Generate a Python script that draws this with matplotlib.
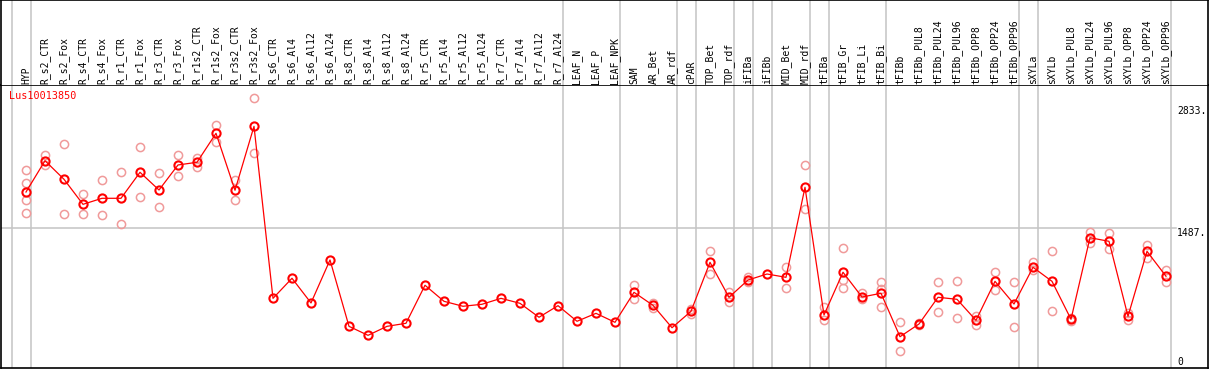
import matplotlib
matplotlib.use("Agg")
import matplotlib.pyplot as plt
import matplotlib.transforms as mtransforms

gene = "Lus10013850"

samples = ["HYP", "R_s2_CTR", "R_s2_Fox", "R_s4_CTR", "R_s4_Fox", "R_r1_CTR", "R_r1_Fox",
           "R_r3_CTR", "R_r3_Fox", "R_r1s2_CTR", "R_r1s2_Fox", "R_r3s2_CTR", "R_r3s2_Fox",
           "R_s6_CTR", "R_s6_Al4", "R_s6_Al12", "R_s6_Al24", "R_s8_CTR", "R_s8_Al4", "R_s8_Al12",
           "R_s8_Al24", "R_r5_CTR", "R_r5_Al4", "R_r5_Al12", "R_r5_Al24", "R_r7_CTR", "R_r7_Al4",
           "R_r7_Al12", "R_r7_Al24", "LEAF_N", "LEAF_P", "LEAF_NPK", "SAM", "AR_Bet", "AR_rdf",
           "cPAR", "TOP_Bet", "TOP_rdf", "iFIBa", "iFIBb", "MID_Bet", "MID_rdf", "tFIBa",
           "tFIB_Gr", "tFIB_Li", "tFIB_Bi", "tFIBb", "tFIBb_PUL8", "tFIBb_PUL24", "tFIBb_PUL96",
           "tFIBb_OPP8", "tFIBb_OPP24", "tFIBb_OPP96", "sXYLa", "sXYLb", "sXYLb_PUL8",
           "sXYLb_PUL24", "sXYLb_PUL96", "sXYLb_OPP8", "sXYLb_OPP24", "sXYLb_OPP96"]

means = [1903, 2262, 2049, 1762, 1831, 1831, 2129, 1926, 2213, 2244, 2576, 1923, 2656,
         684, 914, 631, 1124, 363, 260, 363, 398, 834, 650, 593, 616, 684, 627, 467, 600,
         421, 512, 409, 753, 604, 347, 535, 1097, 696, 894, 963, 925, 1957, 493,
         983, 699, 742, 244, 390, 696, 673, 432, 879, 619, 1040, 879, 444,
         1379, 1338, 478, 1223, 937]

replicates = [
    [2152, 2003, 1808, 1659], [2324, 2216], [2450, 1648], [1877, 1648], [2037, 1636],
    [2129, 1533], [2416, 1842], [2118, 1728], [2324, 2083], [2296, 2193], [2671, 2480],
    [2041, 1808], [2981, 2347],
    [], [], [], [], [], [], [], [], [], [], [], [], [], [], [], [], [], [], [],
    [837, 673], [627, 570], [], [558, 501], [1227, 963], [757, 645], [925, 871], [],
    [1040, 799], [2213, 1705], [581, 436], [1258, 894, 799], [749, 673], [868, 788, 588],
    [416, 80], [401, 378], [868, 524], [879, 455], [485, 378], [983, 776], [868, 352],
    [1101, 1009], [1223, 535], [464, 424], [1445, 1322], [1433, 1246], [519, 436],
    [1296, 1143], [1005, 868],
]

# last sample index of each group (group separators)
group_ends = [-1, 0, 28, 31, 34, 35, 37, 38, 39, 41, 42, 45, 52, 53, 60]
scale_labels = [2833, 1487, 0]
grid_value = 1487

W, H = 1209, 370
fig = plt.figure(figsize=(W / 100, H / 100), dpi=100)

def px(x0, y0, x1, y1):
    return [x0 / W, 1 - y1 / H, (x1 - x0) / W, (y1 - y0) / H]

xlim = ((1 - 26) / 19, (1208 - 26) / 19)
ylim = ((358 - 368) * 11.465, (358 - 85) * 11.465)

ax = fig.add_axes(px(1, 85, 1208, 368))
hx = fig.add_axes(px(1, 0, 1208, 85))
for a in (ax, hx):
    a.set_xlim(*xlim)
    a.set_xticks([])
    a.set_yticks([])
    for s in a.spines.values():
        s.set_color("black")
        s.set_linewidth(1.2)
ax.set_ylim(*ylim)
hx.set_ylim(0, 1)
hx.spines["bottom"].set_visible(False)

xs = list(range(len(samples)))

for g in group_ends:
    for a in (ax, hx):
        a.axvline(g + 0.25, color="#c4c4c4", lw=1.1, zorder=1)

ax.plot([xlim[0], 60.5], [grid_value, grid_value], color="#c4c4c4", lw=1.1, zorder=1)

rx, ry = [], []
for i, reps in enumerate(replicates):
    for v in reps:
        rx.append(i)
        ry.append(v)
ax.plot(rx, ry, linestyle="none", marker="o", ms=5.9, mfc="none", mec="#f09a9a",
        mew=1.1, zorder=2)
ax.plot(xs, means, color="red", lw=0.9, zorder=3)
ax.plot(xs, means, linestyle="none", marker="o", ms=5.9, mfc="none", mec="red",
        mew=1.5, zorder=4)

mono = "DejaVu Sans Mono"
htrans = mtransforms.blended_transform_factory(hx.transData, hx.transAxes)
for i, s in enumerate(samples):
    hx.text(i, 0.015, s, rotation=90, ha="center", va="bottom", fontsize=7,
            family=mono, transform=htrans)

ax.text(0.007, 0.962, gene, color="red", fontsize=7.3, family=mono,
        transform=ax.transAxes, ha="left", va="center")

ytrans = mtransforms.blended_transform_factory(ax.transAxes, ax.transData)
lx = 0.9743
for v in scale_labels:
    if v == max(scale_labels):
        ax.text(lx, v, f"{v}.", fontsize=7, family=mono, ha="left", va="center",
                transform=ytrans)
    elif v == 0:
        ax.text(lx, v + 12, "0", fontsize=7, family=mono, ha="left", va="top",
                transform=ytrans)
    else:
        ax.text(lx, v - 2, f"{v}.", fontsize=7, family=mono, ha="left", va="top",
                transform=ytrans)

fig.savefig("out.png", dpi=100)
